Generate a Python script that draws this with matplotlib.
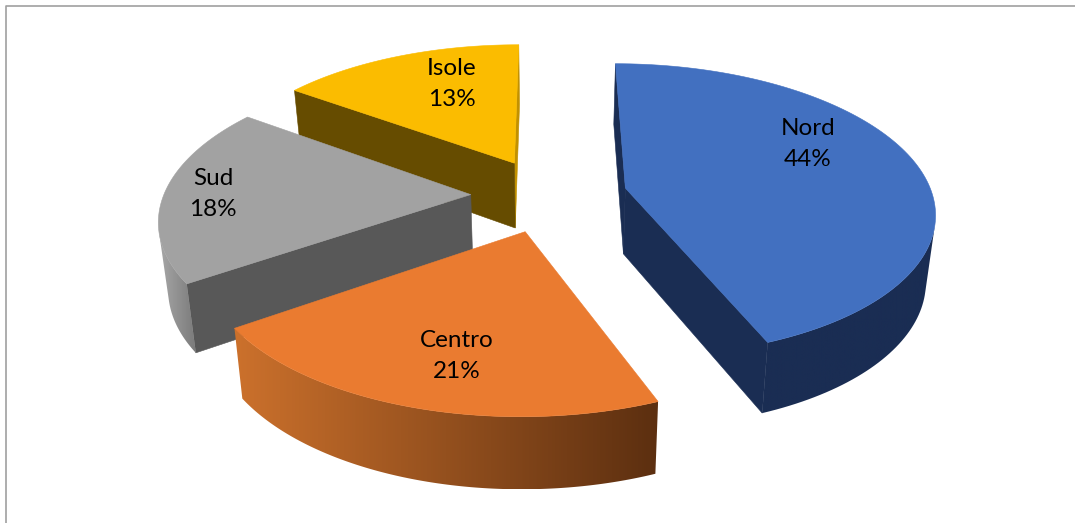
import numpy as np
import matplotlib
matplotlib.use('Agg')
import matplotlib.pyplot as plt
from matplotlib.colors import LinearSegmentedColormap
from matplotlib.patches import Polygon

categories = ['Nord', 'Centro', 'Sud', 'Isole']
percentages = [44, 21, 18, 13]

top_colors = ['#4270C0', '#EA7B30', '#A2A2A2', '#FBBC00']
cut_colors = ['#1A2D53', '#8A4A1C', '#585858', '#664C00']
end_cut_colors = ['#1A2D53', '#8A4A1C', '#585858', '#C29100']
# outer wall shading, left to right on screen
wall_colors = [('#1A2D53', '#1A2D53'), ('#CC712C', '#5C2F10'), ('#A8A8A8', '#7A7A7A'), ('#664C00', '#664C00')]

# camera for the tilted pie
CX, CY = 549, 195
RX, RY = 307, 145
PERSP = 0.15
DEPTH = 66
PINCH = 0.025
EXPLODE = 0.255
SKEW_A, SKEW_B, SKEW_C = 3.6, 4.3, 1.2


def project(x, y, z=0.0):
	s = 1.0 / (1.0 - PERSP * y)
	sx = CX + RX * x * s * (1 - PINCH * z)
	sy = CY + RY * y * s + DEPTH * z * (1 + 0.08 * y)
	return np.array([sx, sy])


def view_angle(theta):
	# the 3d view does not keep angles evenly around the pie
	t = np.radians(theta)
	return theta - SKEW_A + SKEW_A * np.cos(t) + SKEW_B * np.sin(t) + SKEW_C * np.sin(2 * t)


def ring(off, theta):
	# theta is clockwise from the back of the pie
	t = np.radians(theta)
	return off[0] + np.sin(t), off[1] - np.cos(t)


def facing(a, b, c, d):
	pts = [a, b, c, d]
	area = 0
	for i in range(4):
		p, q = pts[i], pts[(i + 1) % 4]
		area += p[0] * q[1] - q[0] * p[1]
	return area < 0


def quad(ax, a, b, c, d, color, z):
	ax.add_patch(Polygon([a, b, c, d], closed=True, facecolor=color, edgecolor=color, lw=0.4, zorder=z))


def draw_slice(ax, a0, a1, top, cut, end_cut, wall, z):
	thetas = view_angle(np.linspace(a0, a1, 120))
	mid = np.radians((thetas[0] + thetas[-1]) / 2)
	off = (EXPLODE * np.sin(mid), -EXPLODE * np.cos(mid))

	tops = [project(*ring(off, t)) for t in thetas]
	bots = [project(*ring(off, t), 1.0) for t in thetas]
	apex = project(off[0], off[1])
	apex_b = project(off[0], off[1], 1.0)

	# the two straight cuts
	if facing(tops[-1], apex, apex_b, bots[-1]):
		quad(ax, tops[-1], apex, apex_b, bots[-1], end_cut, z)
	if facing(apex, tops[0], bots[0], apex_b):
		quad(ax, apex, tops[0], bots[0], apex_b, cut, z)

	# outer wall, one gradient clipped to the visible strip
	vis = [i for i in range(len(thetas) - 1) if facing(tops[i], tops[i + 1], bots[i + 1], bots[i])]
	if vis:
		upper = [tops[i] for i in vis] + [tops[vis[-1] + 1]]
		lower = [bots[i] for i in vis] + [bots[vis[-1] + 1]]
		outline = np.array(upper + lower[::-1])
		x0, x1 = outline[:, 0].min(), outline[:, 0].max()
		y0, y1 = outline[:, 1].min(), outline[:, 1].max()
		cmap = LinearSegmentedColormap.from_list('wall', wall)
		img = ax.imshow(np.linspace(0, 1, 256)[None, :], cmap=cmap, extent=(x0, x1, y1, y0), aspect='auto', zorder=z)
		edge = Polygon(outline, closed=True, facecolor='none', edgecolor='none', transform=ax.transData)
		ax.add_patch(edge)
		img.set_clip_path(edge)

	ax.add_patch(Polygon([apex] + tops, closed=True, facecolor=top, edgecolor=top, lw=0.4, zorder=z + 1))


fig = plt.figure(figsize=(10.75, 5.23), dpi=100)
ax = fig.add_axes([0, 0, 1, 1])

# chart frame
ax.plot([5.5, 5.5, 1075], [523, 5.5, 5.5], color='#A0A0A0', lw=1.2)

total = sum(percentages)
edges = np.cumsum([0] + percentages) / total * 360

# back slices first, Centro sits over Sud
for z, i in enumerate([3, 2, 0, 1]):
	draw_slice(ax, edges[i], edges[i + 1], top_colors[i], cut_colors[i], end_cut_colors[i], wall_colors[i], 2 + 2 * z)

label_pos = [(808, 144), (457, 356), (213, 194), (452, 84)]
for name, pct, (lx, ly) in zip(categories, percentages, label_pos):
	ax.text(lx, ly, name + '\n' + str(pct) + '%', ha='center', va='center', fontsize=17.5,
		family='Lato', color='black', linespacing=1.55, zorder=100)

ax.set_xlim(0, 1075)
ax.set_ylim(523, 0)
ax.axis('off')

fig.savefig('out.png', dpi=100)
